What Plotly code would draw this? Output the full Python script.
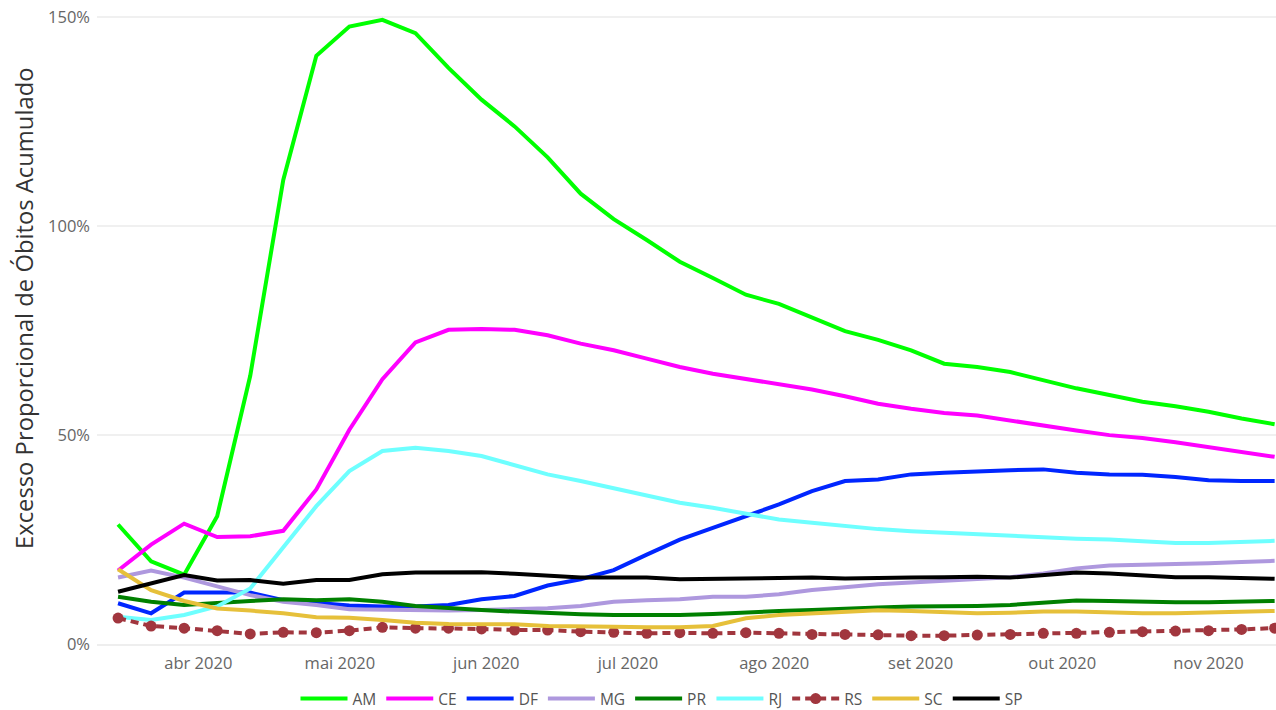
import plotly.graph_objects as go
import pandas as pd

# Weekly dates (Mar 15 2020 .. Nov 15 2020)
dates = pd.date_range("2020-03-15", periods=36, freq="7D")

AM = [28.6, 19.8, 16.6, 30.6, 64.2, 111.1, 140.8, 147.8, 149.4, 146.2, 137.9, 130.3,
      123.9, 116.5, 107.8, 101.7, 96.7, 91.5, 87.6, 83.6, 81.4, 78.2, 74.9, 72.8,
      70.3, 67.1, 66.3, 65.1, 63.1, 61.2, 59.6, 58.0, 56.9, 55.6, 54.0, 52.6]
CE = [17.6, 23.8, 28.8, 25.6, 25.8, 27.1, 37.0, 51.3, 63.4, 72.2, 75.2, 75.4,
      75.2, 73.9, 71.9, 70.3, 68.3, 66.3, 64.7, 63.5, 62.3, 60.9, 59.3, 57.5,
      56.3, 55.3, 54.7, 53.5, 52.1, 51.1, 50.0, 49.3, 48.3, 47.1, 46.0, 44.8]
DF = [9.75, 7.35, 12.3, 12.3, 12.3, 10.5, 9.75, 9.2, 8.95, 8.95, 9.35, 10.7,
      11.5, 14.0, 15.5, 17.7, 21.4, 25.0, 27.8, 30.5, 33.4, 36.6, 39.0, 39.4,
      40.6, 41.0, 41.4, 41.6, 41.8, 41.0, 40.6, 40.5, 40.0, 39.2, 39.0, 39.0]
MG = [15.9, 17.6, 15.9, 13.7, 11.7, 10.1, 9.35, 8.3, 8.15, 8.0, 8.0, 8.15,
      8.3, 8.55, 9.1, 10.1, 10.5, 10.7, 11.3, 11.3, 11.9, 12.9, 13.6, 14.3,
      14.7, 15.2, 15.6, 16.0, 16.9, 18.1, 18.8, 18.9, 19.2, 19.3, 19.6, 19.9]
PR = [11.3, 10.1, 9.35, 9.9, 10.3, 10.7, 10.5, 10.7, 10.1, 9.1, 8.55, 8.15,
      7.75, 7.35, 7.1, 6.95, 6.95, 6.95, 7.2, 7.6, 7.9, 8.15, 8.55, 8.75,
      8.95, 8.95, 9.1, 9.35, 9.9, 10.4, 10.3, 10.1, 10.0, 10.0, 10.1, 10.3]
RJ = [6.55, 5.75, 6.95, 9.0, 13.3, 23.0, 33.0, 41.4, 46.2, 47.0, 46.2, 45.0,
      42.7, 40.6, 39.0, 37.3, 35.4, 33.8, 32.6, 31.3, 29.8, 29.0, 28.2, 27.5,
      27.0, 26.6, 26.2, 25.8, 25.6, 25.2, 25.0, 24.6, 24.2, 24.2, 24.4, 24.7]
RS = [6.2, 4.3, 3.8, 3.2, 2.4, 2.8, 2.7, 3.2, 4.0, 3.8, 3.8, 3.6,
      3.35, 3.35, 2.95, 2.8, 2.55, 2.7, 2.55, 2.7, 2.55, 2.3, 2.3, 2.2,
      2.0, 2.0, 2.15, 2.3, 2.55, 2.55, 2.8, 2.95, 3.1, 3.2, 3.5, 3.8]
SC = [17.9, 12.9, 10.3, 8.5, 8.0, 7.35, 6.4, 6.3, 5.75, 5.1, 4.8, 4.7,
      4.7, 4.3, 4.3, 4.15, 4.0, 4.0, 4.3, 6.15, 6.95, 7.35, 7.75, 8.1,
      7.9, 7.6, 7.35, 7.5, 7.75, 7.75, 7.5, 7.35, 7.35, 7.6, 7.75, 7.9]
SP = [12.5, 14.5, 16.5, 15.2, 15.3, 14.4, 15.3, 15.3, 16.7, 17.1, 17.1, 17.2,
      16.8, 16.4, 15.9, 15.9, 15.9, 15.5, 15.6, 15.7, 15.7, 15.9, 15.7, 15.7,
      15.9, 16.0, 16.1, 15.9, 16.5, 17.1, 16.9, 16.4, 16.0, 16.0, 15.7, 15.6]

series_names = ["AM", "CE", "DF", "MG", "PR", "RJ", "RS", "SC", "SP"]
series_values = [AM, CE, DF, MG, PR, RJ, RS, SC, SP]
colors = ["#00FF00", "#FF00FF", "#0026FF", "#AE98DE", "#008000",
          "#6EFFFF", "#A1363E", "#E6C03A", "#000000"]

tick_dates = ["2020-04-01", "2020-05-01", "2020-06-01", "2020-07-01",
              "2020-08-01", "2020-09-01", "2020-10-01", "2020-11-01"]
tick_labels = ["abr 2020", "mai 2020", "jun 2020", "jul 2020",
               "ago 2020", "set 2020", "out 2020", "nov 2020"]
y_ticks = [0, 0.5, 1.0, 1.5]
y_tick_labels = ["0%", "50%", "100%", "150%"]
y_title = "Excesso Proporcional de Óbitos Acumulado"

FONT = "Open Sans"

W, H = 1276, 710
ML, MR, MT, MB = 97, 0, 9, 66
PW, PH = W - ML - MR, H - MT - MB

fig = go.Figure()
for name, vals, col in zip(series_names, series_values, colors):
    y = [v / 100 for v in vals]
    if name == "RS":
        fig.add_trace(go.Scatter(
            x=dates, y=y, name=name, mode="lines+markers",
            line=dict(color=col, width=4, dash="8px,5px"),
            marker=dict(color=col, size=11),
        ))
    else:
        fig.add_trace(go.Scatter(
            x=dates, y=y, name=name, mode="lines",
            line=dict(color=col, width=4),
        ))

fig.update_layout(
    width=W, height=H,
    margin=dict(l=ML, r=MR, t=MT, b=MB, autoexpand=False),
    plot_bgcolor="white", paper_bgcolor="white",
    font=dict(family=FONT, color="#666666", size=16),
    legend=dict(
        orientation="h", x=(662 - ML) / PW, xanchor="center",
        y=-(699 - MT - PH) / PH, yanchor="middle",
        font=dict(family=FONT, size=15.5, color="#555555"),
        itemwidth=47, tracegroupgap=0,
    ),
    showlegend=True,
    annotations=[dict(
        text=y_title, textangle=-90, showarrow=False,
        xref="paper", yref="paper",
        x=(24 - ML) / PW, y=1 - (308 - MT) / PH,
        xanchor="center", yanchor="middle",
        font=dict(family=FONT, size=23.8, color="#333333"),
    )],
)
fig.update_xaxes(
    range=["2020-03-10 13:00", "2020-11-15 07:00"],
    tickvals=tick_dates, ticktext=tick_labels,
    showgrid=False, zeroline=False, automargin=False,
    showline=True, linecolor="#EEEEEE", linewidth=2,
    ticks="", ticklabelstandoff=3, ticklabeloverflow="allow",
    tickfont=dict(family=FONT, size=16.5, color="#666666"),
)
fig.update_yaxes(
    range=[0, 1.52], automargin=False,
    tickvals=y_ticks, ticktext=y_tick_labels,
    showgrid=True, gridcolor="#F0F0F0", gridwidth=1.5,
    zeroline=False, showline=False, ticks="", ticklabelstandoff=6,
    ticklabeloverflow="allow",
    tickfont=dict(family=FONT, size=16.5, color="#666666"),
)

# Remove the browser's default 8px body margin so the figure fills the window.
fig.write_html(
    "out.html",
    config={"displayModeBar": False},
    post_script="document.body.style.margin='0px';document.body.style.overflow='hidden';",
)
